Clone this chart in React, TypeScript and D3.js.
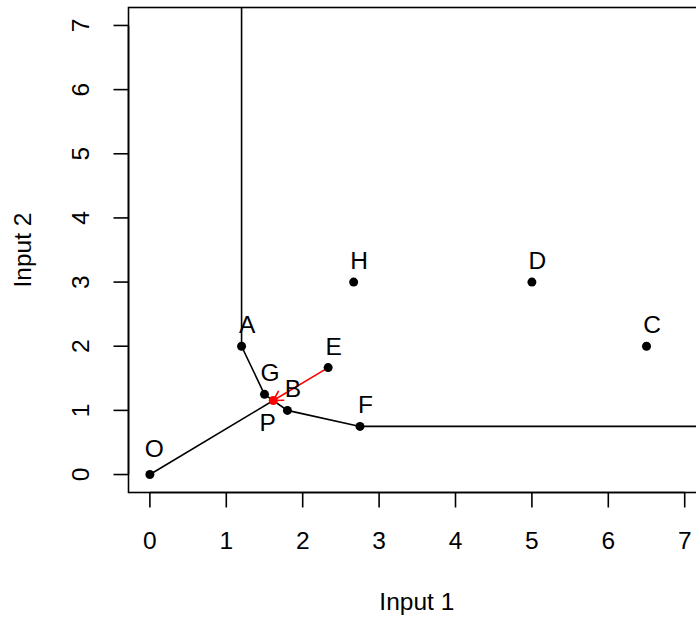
import React from "react";
import * as d3 from "d3";

// ---- data ----
const pointNames = ["O", "A", "B", "C", "D", "E", "F", "G", "H"];
const input1 = [0, 1.2, 1.8, 6.5, 5, 2.333, 2.75, 1.5, 2.667];
const input2 = [0, 2, 1, 2, 3, 1.667, 0.75, 1.25, 3];
const frontier = ["A", "G", "B", "F"];
const projName = "P";
const projInput1 = 1.615;
const projInput2 = 1.154;
const targetName = "E";
const xTicks = [0, 1, 2, 3, 4, 5, 6, 7];
const yTicks = [0, 1, 2, 3, 4, 5, 6, 7];
const axisLimits = [0, 7];
const xTitle = "Input 1";
const yTitle = "Input 2";

const W = 696;
const H = 619;
const FONT = "'Liberation Sans', Arial, Helvetica, sans-serif";
const FS = 24.5;

export default function App() {
  const ext = (axisLimits[1] - axisLimits[0]) * 0.04;
  const left = 128.5;
  const right = 706.1;
  const top = 7.5;
  const bottom = 492.5;
  const x = d3.scaleLinear().domain([axisLimits[0] - ext, axisLimits[1] + ext]).range([left, right]);
  const y = d3.scaleLinear().domain([axisLimits[0] - ext, axisLimits[1] + ext]).range([bottom, top]);

  const pts = pointNames.map((n, i) => ({ name: n, x: input1[i], y: input2[i] }));
  const byName: Record<string, { x: number; y: number }> = {};
  pts.forEach((p) => (byName[p.name] = p));

  const fr = frontier.map((n) => byName[n]);
  const first = fr[0];
  const last = fr[fr.length - 1];
  const line = d3.line<[number, number]>().x((d) => x(d[0])).y((d) => y(d[1]));
  const frontierPath = line([
    [first.x, axisLimits[1] + ext * 3],
    ...fr.map((p) => [p.x, p.y] as [number, number]),
    [axisLimits[1] + ext * 3, last.y],
  ]);

  const e = byName[targetName];
  const ex = x(e.x), ey = y(e.y);
  const px = x(projInput1), py = y(projInput2);
  const ang = Math.atan2(ey - py, ex - px);
  const hl = 11;
  const a1 = ang + Math.PI / 6;
  const a2 = ang - Math.PI / 6;

  const labelAdj: Record<string, [number, number]> = {
    O: [4.5, -17.5],
  };

  return (
    <svg width={W} height={H} style={{ position: "absolute", left: 0, top: 0, background: "#fff" }} fontFamily={FONT}>
      <defs>
        <clipPath id="plotclip">
          <rect x={left} y={top} width={right - left} height={bottom - top} />
        </clipPath>
      </defs>
      <rect x={0} y={0} width={W} height={H} fill="#fff" />
      <g clipPath="url(#plotclip)">
        <path d={frontierPath || ""} fill="none" stroke="#000" strokeWidth={1.6} />
        <line x1={x(0)} y1={y(0)} x2={px} y2={py} stroke="#000" strokeWidth={1.6} />
        <line x1={ex} y1={ey} x2={px} y2={py} stroke="#ff0000" strokeWidth={1.6} />
        <line x1={px} y1={py} x2={px + hl * Math.cos(a1)} y2={py + hl * Math.sin(a1)} stroke="#ff0000" strokeWidth={1.6} />
        <line x1={px} y1={py} x2={px + hl * Math.cos(a2)} y2={py + hl * Math.sin(a2)} stroke="#ff0000" strokeWidth={1.6} />
        {pts.map((p) => (
          <circle key={p.name} cx={x(p.x)} cy={y(p.y)} r={4.5} fill="#000" />
        ))}
        <circle cx={px} cy={py} r={4.5} fill="#ff0000" />
        {pts.map((p) => {
          const adj = labelAdj[p.name] || [5.5, -13];
          return (
            <text key={"l" + p.name} x={x(p.x) + adj[0]} y={y(p.y) + adj[1]} fontSize={FS} textAnchor="middle" fill="#000">
              {p.name}
            </text>
          );
        })}
        <text x={px - 5.5} y={py + 30} fontSize={FS} textAnchor="middle" fill="#000">
          {projName}
        </text>
      </g>
      <rect x={left} y={top} width={right - left} height={bottom - top} fill="none" stroke="#000" strokeWidth={1.6} />
      <line x1={x(xTicks[0])} x2={x(xTicks[xTicks.length - 1])} y1={bottom} y2={bottom} stroke="#000" strokeWidth={1.6} />
      {xTicks.map((t) => (
        <g key={"xt" + t}>
          <line x1={x(t)} x2={x(t)} y1={bottom} y2={bottom + 15} stroke="#000" strokeWidth={1.6} />
          <text x={x(t)} y={549} fontSize={FS} textAnchor="middle" fill="#000">
            {t}
          </text>
        </g>
      ))}
      <line x1={left} x2={left} y1={y(yTicks[0])} y2={y(yTicks[yTicks.length - 1])} stroke="#000" strokeWidth={1.6} />
      {yTicks.map((t) => (
        <g key={"yt" + t}>
          <line x1={left - 15} x2={left} y1={y(t)} y2={y(t)} stroke="#000" strokeWidth={1.6} />
          <text transform={`translate(88.5,${y(t)}) rotate(-90)`} fontSize={FS} textAnchor="middle" fill="#000">
            {t}
          </text>
        </g>
      ))}
      <text x={(left + right) / 2 - 0.5} y={610} fontSize={FS} textAnchor="middle" fill="#000">
        {xTitle}
      </text>
      <text transform={`translate(31,${(top + bottom) / 2}) rotate(-90)`} fontSize={FS} textAnchor="middle" fill="#000">
        {yTitle}
      </text>
    </svg>
  );
}
